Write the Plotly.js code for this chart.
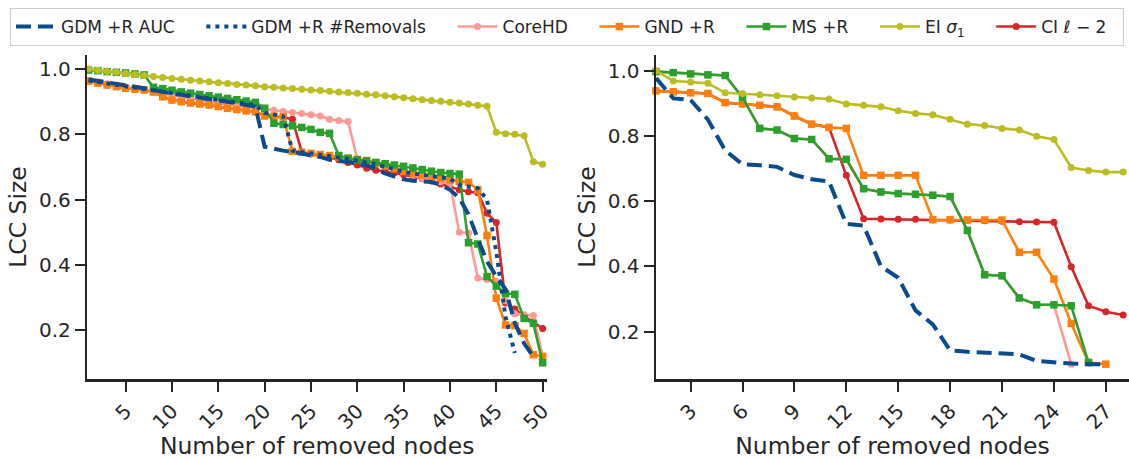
<!DOCTYPE html>
<html>
<head>
<meta charset="utf-8">
<script src="https://cdn.plot.ly/plotly-3.0.1.min.js"></script>
<style>html,body{margin:0;padding:0;background:#fff;}#chart{width:1129px;height:460px;}</style>
</head>
<body>
<div id="chart"></div>
<script>
// ---------- data: left panel ----------
const xLeft = [1,2,3,4,5,6,7,8,9,10,11,12,13,14,15,16,17,18,19,20,21,22,23,24,25,26,27,28,29,30,31,32,33,34,35,36,37,38,39,40,41,42,43,44,45,46,47,48,49,50];
const gdmAucLeft = [0.968,0.963,0.958,0.954,0.950,0.946,0.941,0.935,0.929,0.925,0.921,0.917,0.912,0.907,0.904,0.900,0.895,0.890,0.885,0.762,0.755,0.750,0.746,0.742,0.737,0.731,0.722,0.719,0.716,0.712,0.705,0.695,0.680,0.670,0.662,0.658,0.656,0.654,0.645,0.630,0.605,0.555,0.480,0.410,0.365,0.325,0.222,0.160,0.118];
const gdmRemLeft = [0.965,0.960,0.955,0.951,0.947,0.943,0.939,0.935,0.930,0.926,0.922,0.918,0.914,0.910,0.906,0.902,0.898,0.893,0.889,0.866,0.860,0.855,0.750,0.745,0.741,0.737,0.733,0.729,0.725,0.720,0.714,0.708,0.700,0.692,0.685,0.680,0.676,0.672,0.668,0.664,0.645,0.640,0.635,0.600,0.440,0.240,0.130];
const coreHDLeft = [0.965,0.960,0.955,0.950,0.945,0.940,0.935,0.930,0.925,0.920,0.915,0.910,0.905,0.900,0.896,0.892,0.888,0.885,0.882,0.876,0.874,0.870,0.867,0.864,0.860,0.856,0.846,0.842,0.839,0.725,0.718,0.710,0.702,0.695,0.688,0.675,0.665,0.660,0.655,0.650,0.500,0.498,0.360,0.355,0.350,0.290,0.250,0.247,0.245,0.120];
const gndLeft = [0.963,0.957,0.951,0.946,0.941,0.938,0.936,0.930,0.915,0.905,0.900,0.896,0.893,0.890,0.885,0.880,0.876,0.872,0.869,0.856,0.855,0.854,0.748,0.745,0.742,0.738,0.735,0.731,0.727,0.723,0.720,0.712,0.705,0.695,0.686,0.680,0.675,0.670,0.665,0.660,0.656,0.653,0.630,0.490,0.298,0.216,0.214,0.190,0.125,0.120];
const msLeft = [0.997,0.995,0.992,0.990,0.988,0.985,0.982,0.944,0.940,0.935,0.930,0.926,0.922,0.918,0.914,0.910,0.906,0.902,0.898,0.880,0.834,0.830,0.826,0.821,0.815,0.806,0.803,0.735,0.726,0.722,0.718,0.714,0.710,0.706,0.702,0.697,0.692,0.687,0.683,0.680,0.678,0.468,0.464,0.364,0.335,0.312,0.310,0.236,0.221,0.100];
const eiLeft = [1.000,0.996,0.993,0.990,0.986,0.983,0.980,0.977,0.974,0.971,0.969,0.966,0.963,0.961,0.958,0.956,0.953,0.951,0.949,0.946,0.944,0.942,0.940,0.938,0.936,0.934,0.932,0.930,0.928,0.926,0.923,0.921,0.918,0.915,0.912,0.909,0.906,0.904,0.901,0.898,0.896,0.893,0.889,0.886,0.806,0.802,0.800,0.796,0.716,0.708];
const ciLeft = [0.963,0.957,0.951,0.946,0.941,0.938,0.936,0.930,0.915,0.905,0.900,0.896,0.893,0.890,0.885,0.880,0.876,0.872,0.869,0.858,0.855,0.852,0.846,0.746,0.740,0.735,0.730,0.722,0.714,0.706,0.696,0.690,0.686,0.682,0.676,0.670,0.664,0.657,0.648,0.638,0.630,0.624,0.621,0.558,0.530,0.283,0.265,0.242,0.225,0.205];

// ---------- data: right panel ----------
const xRight = [1,2,3,4,5,6,7,8,9,10,11,12,13,14,15,16,17,18,19,20,21,22,23,24,25,26,27,28];
const gdmAucRight = [0.977,0.915,0.910,0.850,0.755,0.713,0.710,0.705,0.680,0.667,0.660,0.530,0.525,0.400,0.365,0.265,0.222,0.142,0.138,0.135,0.133,0.130,0.110,0.105,0.102,0.100,0.100];
const coreHDRight = [0.997,0.994,0.990,0.987,0.985,0.918,0.823,0.818,0.792,0.789,0.730,0.728,0.638,0.628,0.623,0.621,0.618,0.614,0.510,0.374,0.371,0.303,0.282,0.282,0.100];
const gndRight = [0.938,0.935,0.932,0.930,0.902,0.898,0.894,0.889,0.861,0.836,0.826,0.823,0.679,0.679,0.679,0.679,0.543,0.543,0.542,0.542,0.542,0.443,0.443,0.361,0.225,0.105,0.100];
const msRight = [0.997,0.994,0.990,0.987,0.985,0.918,0.823,0.818,0.792,0.789,0.730,0.728,0.638,0.628,0.623,0.621,0.618,0.614,0.510,0.374,0.371,0.303,0.282,0.282,0.279,0.105];
const eiRight = [1.000,0.968,0.965,0.961,0.932,0.930,0.926,0.923,0.919,0.916,0.913,0.898,0.894,0.889,0.877,0.869,0.865,0.851,0.836,0.832,0.823,0.818,0.799,0.789,0.703,0.694,0.689,0.689];
const ciRight = [0.938,0.935,0.932,0.930,0.902,0.898,0.894,0.889,0.861,0.836,0.826,0.679,0.546,0.545,0.544,0.544,0.543,0.542,0.541,0.540,0.538,0.537,0.536,0.535,0.399,0.279,0.261,0.251];

const leftTicks = [5,10,15,20,25,30,35,40,45,50];
const rightTicks = [3,6,9,12,15,18,21,24,27];
const yTicks = [0.2,0.4,0.6,0.8,1.0];

const names = {
  auc: 'GDM +R AUC',
  rem: 'GDM +R #Removals',
  core: 'CoreHD',
  gnd: 'GND +R',
  ms: 'MS +R',
  ei: 'EI <i>σ</i><sub>1</sub>',
  ci: 'CI <i>ℓ</i> − 2'
};
const colors = {auc:'#0b4a8c', rem:'#0b4a8c', core:'#ff9896', gnd:'#ff7f0e', ms:'#2ca02c', ei:'#bcbd22', ci:'#d62728'};
const rank = {auc:1, rem:2, core:3, gnd:4, ms:5, ei:6, ci:7};
// trailing no-break spaces only widen the gap between legend entries
const pad = {auc:4, rem:4, core:4, gnd:4, ms:4, ei:4, ci:2};

function mk(key, x, y, panel, sym) {
  const t = {
    type:'scatter', x:x.slice(0, y.length), y:y, name:names[key] + '\u00a0'.repeat(pad[key]), legendrank:rank[key],
    xaxis: panel===1 ? 'x' : 'x2', yaxis: panel===1 ? 'y' : 'y2',
    showlegend: panel===1, cliponaxis:false,
    line:{color:colors[key], width:2.6}
  };
  if (sym) { t.mode='lines+markers'; t.marker={symbol:sym, size:sym==='square'?7.5:7, color:colors[key]}; }
  else { t.mode='lines'; }
  if (key==='auc') t.line = {color:colors[key], width:4, dash:'15px,7px'};
  if (key==='rem') t.line = {color:colors[key], width:4, dash:'4px,5px'};
  return t;
}

const data = [
  mk('ci', xLeft, ciLeft, 1, 'circle'),
  mk('core', xLeft, coreHDLeft, 1, 'circle'),
  mk('gnd', xLeft, gndLeft, 1, 'square'),
  mk('ms', xLeft, msLeft, 1, 'square'),
  mk('ei', xLeft, eiLeft, 1, 'circle'),
  mk('rem', xLeft, gdmRemLeft, 1, null),
  mk('auc', xLeft, gdmAucLeft, 1, null),
  mk('ci', xRight, ciRight, 2, 'circle'),
  mk('core', xRight, coreHDRight, 2, 'circle'),
  mk('gnd', xRight, gndRight, 2, 'square'),
  mk('ms', xRight, msRight, 2, 'square'),
  mk('ei', xRight, eiRight, 2, 'circle'),
  mk('auc', xRight, gdmAucRight, 2, null)
];

const ink = '#262626';
const axBase = {
  showline:true, linewidth:2.5, linecolor:ink, ticks:'outside', ticklen:10, tickwidth:2, tickcolor:ink,
  showgrid:false, zeroline:false, tickfont:{family:'DejaVu Sans', size:20, color:ink}, fixedrange:true
};
const titleFont = {family:'DejaVu Sans', size:23.5, color:ink};
const layout = {
  width:1129, height:460, margin:{l:0, r:0, t:0, b:0},
  paper_bgcolor:'#fff', plot_bgcolor:'#fff',
  font:{family:'DejaVu Sans', color:ink},
  xaxis: Object.assign({}, axBase, {domain:[87.3/1129, 547/1129], range:[0.86, 50.47], anchor:'y',
    tickmode:'array', tickvals:leftTicks, ticktext:leftTicks.map(String), tickangle:-45,
    title:{text:'Number of removed nodes', font:titleFont, standoff:0}}),
  yaxis: Object.assign({}, axBase, {domain:[81/460, 405/460], range:[0.0505, 1.043], anchor:'x',
    tickmode:'array', tickvals:yTicks, ticktext:yTicks.map(v=>v.toFixed(1)),
    title:{text:'LCC Size', font:titleFont, standoff:6}}),
  xaxis2: Object.assign({}, axBase, {domain:[656/1129, 1], range:[1, 28.34], anchor:'y2',
    tickmode:'array', tickvals:rightTicks, ticktext:rightTicks.map(String), tickangle:-45,
    title:{text:'Number of removed nodes', font:titleFont, standoff:0}}),
  yaxis2: Object.assign({}, axBase, {domain:[81/460, 405/460], range:[0.0545, 1.048], anchor:'x2',
    tickmode:'array', tickvals:yTicks, ticktext:yTicks.map(v=>v.toFixed(1)),
    title:{text:'LCC Size', font:titleFont, standoff:6}}),
  legend:{orientation:'h', x:10/1129, xanchor:'left', y:452/460, yanchor:'top',
    font:{family:'DejaVu Sans', size:17, color:ink}, bordercolor:'#cccccc', borderwidth:1,
    bgcolor:'rgba(255,255,255,0.8)', itemwidth:40, traceorder:'normal'},
  showlegend:true
};
Plotly.newPlot('chart', data, layout, {displayModeBar:false, staticPlot:true});
</script>
</body>
</html>
